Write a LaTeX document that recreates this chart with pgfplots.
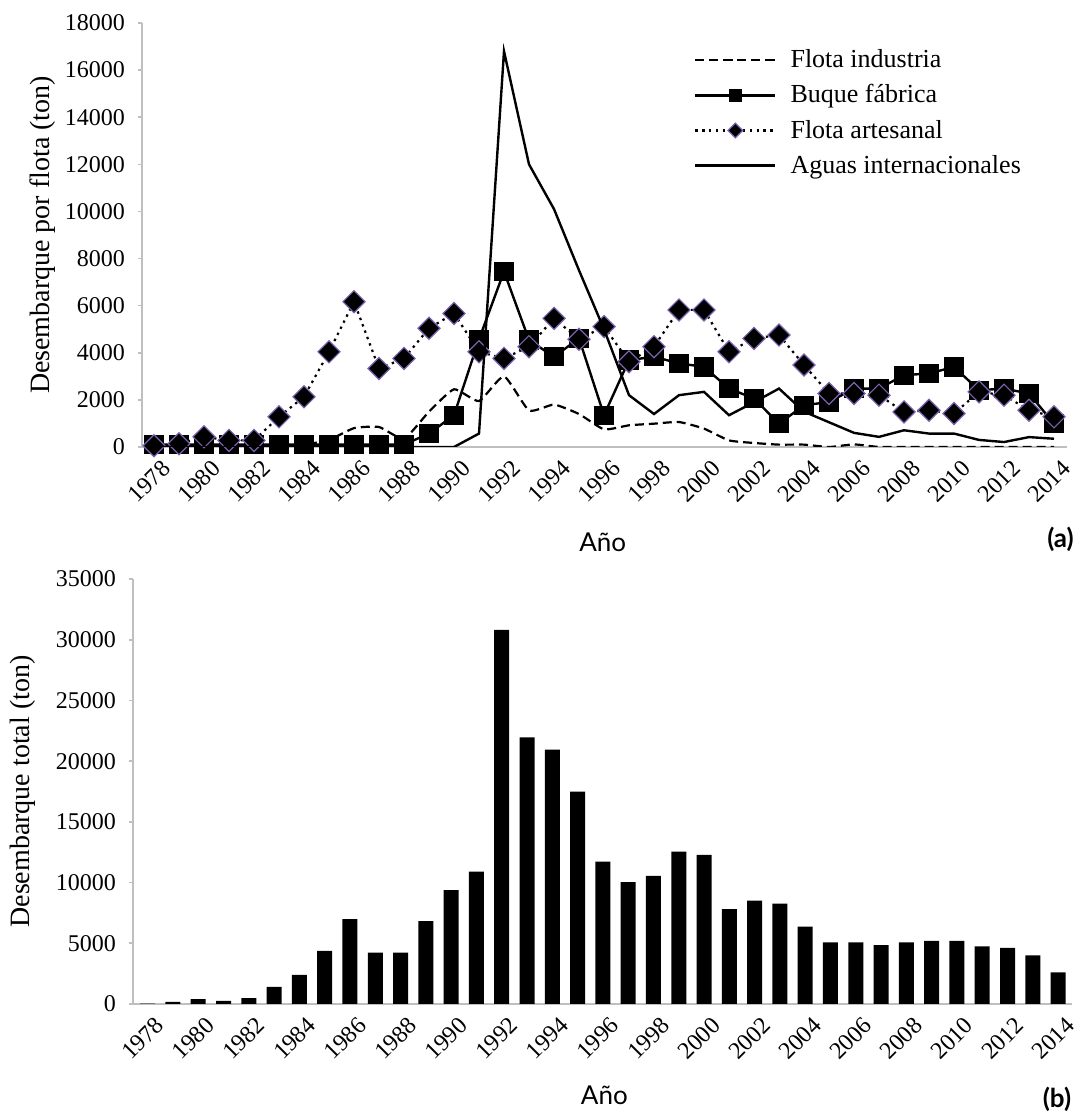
\documentclass[border=0pt]{standalone}
\usepackage{fontspec}
\setmainfont{Liberation Serif}
\newfontfamily\lato{Lato}
\usepackage{pgfplots}
\usepackage{pgfplotstable}
\pgfplotsset{compat=1.18}

\definecolor{axgray}{HTML}{BFBFBF}
\definecolor{edgepurple}{HTML}{7B62AE}

% landings per fleet (ton)
\pgfplotstableread{
year ind  buq  art  agu
1978 0    100  50   0
1979 0    100  140  0
1980 0    100  430  0
1981 0    100  280  0
1982 0    100  280  0
1983 50   100  1280 0
1984 100  100  2130 0
1985 300  100  4040 0
1986 800  100  6170 0
1987 850  100  3330 0
1988 350  100  3760 0
1989 1500 570  5040 0
1990 2450 1350 5670 0
1991 1950 4570 4040 570
1992 3000 7450 3760 16800
1993 1550 4540 4260 12000
1994 1800 3830 5460 10100
1995 1400 4610 4570 7500
1996 750  1350 5110 5000
1997 920  3690 3620 2200
1998 990  3830 4260 1400
1999 1060 3550 5820 2200
2000 780  3400 5820 2340
2001 280  2480 4040 1350
2002 170  2060 4610 1900
2003 100  990  4750 2480
2004 100  1770 3480 1500
2005 0    1910 2270 1050
2006 110  2480 2270 600
2007 0    2480 2200 430
2008 0    3050 1490 710
2009 0    3120 1560 570
2010 0    3400 1420 570
2011 0    2410 2340 300
2012 0    2480 2200 210
2013 0    2270 1560 420
2014 0    990  1280 350
}\fleet

% total landings (ton)
\pgfplotstableread{
year total
1978 30
1979 180
1980 400
1981 250
1982 490
1983 1410
1984 2390
1985 4380
1986 6980
1987 4230
1988 4230
1989 6830
1990 9370
1991 10900
1992 30800
1993 21950
1994 20950
1995 17480
1996 11730
1997 10040
1998 10560
1999 12550
2000 12280
2001 7810
2002 8510
2003 8270
2004 6370
2005 5080
2006 5080
2007 4840
2008 5080
2009 5200
2010 5200
2011 4750
2012 4620
2013 4010
2014 2600
}\total

\pgfplotsset{
  common/.style={
    scale only axis,
    clip mode=individual,
    axis x line*=bottom,
    axis y line*=left,
    axis line style={draw=axgray, line width=0.9pt, -},
    tick align=outside,
    major tick length=2pt,
    ytick style={draw=axgray, line width=0.8pt},
    xtick style={draw=none},
    xtick={1978,1980,...,2014},
    scaled y ticks=false,
    /pgf/number format/.cd, 1000 sep={}, assume math mode=true,
    /pgfplots/.cd,
    yticklabel style={font=\rmfamily\fontsize{12}{12}\selectfont, xshift=-3pt},
    xticklabel style={font=\rmfamily\fontsize{12}{12}\selectfont, rotate=45, anchor=east, yshift=-9pt, xshift=3pt},
    xlabel={Año},
  }
}

\begin{document}
\begin{tikzpicture}
% (a) landings per fleet
\begin{axis}[common,
  at={(71pt,332.5pt)}, anchor=south west,
  width=462.5pt, height=212pt,
  xmin=1977.52, xmax=2014.52,
  ymin=0, ymax=18000,
  ytick={0,2000,...,18000},
  ylabel={Desembarque por flota (ton)},
  every axis y label/.style={at={(axis description cs:-0.107,0.5)}, rotate=90, anchor=center,
    font=\fontsize{14}{14}\selectfont},
  every axis x label/.style={at={(axis description cs:0.498,-0.224)}, anchor=center,
    font=\lato\fontsize{13}{13}\selectfont},
  legend style={at={(axis description cs:0.59,0.957)}, anchor=north west,
    draw=none, fill=none, font=\fontsize{13}{13}\selectfont,
    row sep=3pt, cells={anchor=west},
    /tikz/every odd column/.append style={column sep=5pt}},
  legend image code/.code={\draw[#1, mark size=2.6pt, mark repeat=2, mark phase=2]
    plot coordinates {(0pt,0pt) (20pt,0pt) (40pt,0pt)};},
]
\addplot[black, line width=1.1pt, dash pattern=on 4.5pt off 2.5pt, smooth, tension=0.3]
  table[x=year, y=ind]{\fleet};
\addlegendentry{Flota industria}
\addplot[black, line width=1.2pt, mark=square*, mark size=4.2pt]
  table[x=year, y=buq]{\fleet};
\addlegendentry{Buque fábrica}
\addplot[black, line width=1.1pt, dash pattern=on 1.2pt off 2.2pt, mark=square*, mark size=3.9pt,
  mark options={solid, rotate=45, fill=black, draw=edgepurple, line width=0.6pt}]
  table[x=year, y=art]{\fleet};
\addlegendentry{Flota artesanal}
\addplot[black, line width=1.2pt]
  table[x=year, y=agu]{\fleet};
\addlegendentry{Aguas internacionales}
\node[font=\lato\bfseries\fontsize{13}{13}\selectfont] at (axis description cs:0.993,-0.219) {(a)};
\end{axis}

% (b) total landings
\begin{axis}[common,
  at={(66.5pt,54pt)}, anchor=south west,
  width=469.5pt, height=212.5pt,
  xmin=1977.42, xmax=2014.55,
  ymin=0, ymax=35000,
  ytick={0,5000,...,35000},
  ybar, bar width=7.5pt,
  ylabel={Desembarque total (ton)},
  every axis y label/.style={at={(axis description cs:-0.117,0.5)}, rotate=90, anchor=center,
    font=\fontsize{14}{14}\selectfont},
  every axis x label/.style={at={(axis description cs:0.502,-0.214)}, anchor=center,
    font=\lato\fontsize{13}{13}\selectfont},
]
\addplot[fill=black, draw=none] table[x=year, y=total]{\total};
\node[font=\lato\bfseries\fontsize{13}{13}\selectfont] at (axis description cs:0.984,-0.225) {(b)};
\end{axis}

\pgfresetboundingbox
\path[use as bounding box] (0,0) rectangle (540pt,556pt);
\end{tikzpicture}
\end{document}
